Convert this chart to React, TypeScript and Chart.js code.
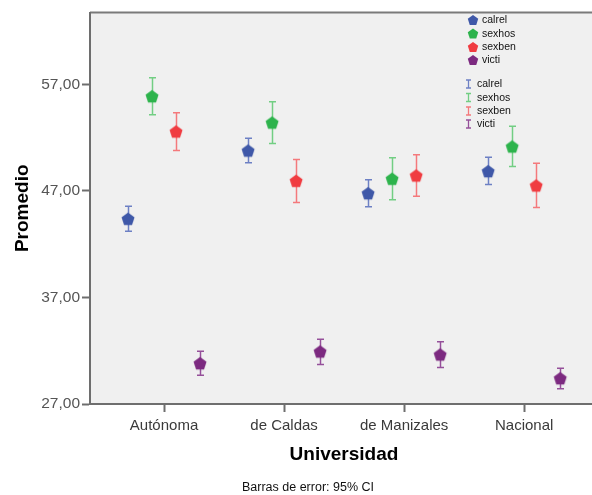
import React, { useEffect, useRef } from 'react';
import { Chart, registerables } from 'chart.js';

Chart.register(...registerables);

// ---------- data ----------
const categories = ['Autónoma', 'de Caldas', 'de Manizales', 'Nacional'];
const seriesNames = ['calrel', 'sexhos', 'sexben', 'victi'];
const yTicks = [27, 37, 47, 57];
const footnote = 'Barras de error: 95% CI';
const xTitle = 'Universidad';
const yTitle = 'Promedio';

const calrelMean = [44.39, 50.8, 46.79, 48.86];
const calrelLow = [43.23, 49.65, 45.52, 47.61];
const calrelHigh = [45.57, 51.96, 48.05, 50.17];

const sexhosMean = [55.9, 53.43, 48.15, 51.18];
const sexhosLow = [54.16, 51.46, 46.17, 49.3];
const sexhosHigh = [57.63, 55.38, 50.12, 53.08];

const sexbenMean = [52.59, 47.96, 48.46, 47.52];
const sexbenLow = [50.8, 45.92, 46.51, 45.45];
const sexbenHigh = [54.34, 49.96, 50.4, 49.61];

const victiMean = [30.83, 31.93, 31.65, 29.42];
const victiLow = [29.7, 30.71, 30.43, 28.43];
const victiHigh = [31.96, 33.08, 32.84, 30.36];

// ---------- styles ----------
const FONT = '"Liberation Sans", Arial, Helvetica, sans-serif';
const markerColors = ['#3F58A8', '#2DB34C', '#F03C41', '#7C2A80'];
const errorColors = ['#6D80C4', '#72CE83', '#F4797C', '#95509A'];
const seriesOffsets = [-0.3, -0.1, 0.1, 0.3];
const MARKER_R = 6.8;
const AXIS_COLOR = '#6E6E6E';

function pentagonPath(ctx: CanvasRenderingContext2D, cx: number, cy: number, r: number) {
  ctx.beginPath();
  const shift = (r - r * Math.cos(Math.PI / 5)) / 2;
  for (let i = 0; i < 5; i++) {
    const a = -Math.PI / 2 + (i * 2 * Math.PI) / 5;
    const px = cx + r * Math.cos(a);
    const py = cy + shift + r * Math.sin(a);
    if (i === 0) ctx.moveTo(px, py);
    else ctx.lineTo(px, py);
  }
  ctx.closePath();
}

function makeMarker(color: string, r: number) {
  const size = Math.ceil(r * 2 + 2);
  const c = document.createElement('canvas');
  c.width = size;
  c.height = size;
  const g = c.getContext('2d')!;
  g.fillStyle = color;
  pentagonPath(g, size / 2, size / 2, r);
  g.fill();
  return c;
}

const means = [calrelMean, sexhosMean, sexbenMean, victiMean];
const lows = [calrelLow, sexhosLow, sexbenLow, victiLow];
const highs = [calrelHigh, sexhosHigh, sexbenHigh, victiHigh];

const bgPlugin = {
  id: 'bgPlugin',
  beforeDraw(chart: any) {
    const { ctx, chartArea: a } = chart;
    ctx.save();
    ctx.fillStyle = '#FFFFFF';
    ctx.fillRect(0, 0, chart.width, chart.height);
    ctx.fillStyle = '#F0F0F0';
    ctx.fillRect(a.left, a.top, chart.width - a.left, a.bottom - a.top);
    ctx.strokeStyle = '#7A7A7A';
    ctx.lineWidth = 2;
    ctx.beginPath();
    ctx.moveTo(a.left, a.top);
    ctx.lineTo(chart.width, a.top);
    ctx.stroke();
    ctx.restore();
  },
  afterDraw(chart: any) {
    // bottom axis line runs to the canvas edge (plot continues past the frame)
    const { ctx, chartArea: a } = chart;
    ctx.save();
    ctx.strokeStyle = AXIS_COLOR;
    ctx.lineWidth = 2;
    ctx.beginPath();
    ctx.moveTo(a.left - 1, Math.round(a.bottom));
    ctx.lineTo(chart.width, Math.round(a.bottom));
    ctx.stroke();
    ctx.restore();
  },
};

const errorBarPlugin = {
  id: 'errorBarPlugin',
  beforeDatasetsDraw(chart: any) {
    const { ctx } = chart;
    const xs = chart.scales.x;
    const ys = chart.scales.y;
    ctx.save();
    ctx.lineWidth = 1.5;
    chart.data.datasets.forEach((ds: any, i: number) => {
      ctx.strokeStyle = errorColors[i];
      ds.data.forEach((p: any, j: number) => {
        const x = Math.round(xs.getPixelForValue(p.x)) + 0.5;
        const yl = ys.getPixelForValue(ds.errLow[j]);
        const yh = ys.getPixelForValue(ds.errHigh[j]);
        ctx.beginPath();
        ctx.moveTo(x, yl);
        ctx.lineTo(x, yh);
        ctx.moveTo(x - 3.5, yl);
        ctx.lineTo(x + 3.5, yl);
        ctx.moveTo(x - 3.5, yh);
        ctx.lineTo(x + 3.5, yh);
        ctx.stroke();
      });
    });
    ctx.restore();
  },
};

const legendPlugin = {
  id: 'customLegend',
  afterDraw(chart: any) {
    const { ctx } = chart;
    ctx.save();
    ctx.font = `10.5px ${FONT}`;
    ctx.textBaseline = 'middle';
    ctx.textAlign = 'left';
    const mx = 473;
    const rows1 = [20, 33.5, 47, 60];
    seriesNames.forEach((name, i) => {
      ctx.fillStyle = markerColors[i];
      pentagonPath(ctx, mx, rows1[i], 5.5);
      ctx.fill();
      ctx.fillStyle = '#111';
      ctx.fillText(name, 482, rows1[i] + 0.5);
    });
    const rows2 = [84, 97.5, 111, 124];
    seriesNames.forEach((name, i) => {
      const y = rows2[i];
      ctx.strokeStyle = errorColors[i];
      ctx.lineWidth = 1.3;
      const x = 468.5;
      ctx.beginPath();
      ctx.moveTo(x, y - 4);
      ctx.lineTo(x, y + 4);
      ctx.moveTo(x - 2.5, y - 4);
      ctx.lineTo(x + 2.5, y - 4);
      ctx.moveTo(x - 2.5, y + 4);
      ctx.lineTo(x + 2.5, y + 4);
      ctx.stroke();
      ctx.fillStyle = '#111';
      ctx.fillText(name, 477, y + 0.5);
    });
    // x-axis title
    ctx.font = `bold 19px ${FONT}`;
    ctx.fillStyle = '#000';
    ctx.textAlign = 'center';
    ctx.fillText(xTitle, 344, 455);
    // footnote
    ctx.font = `12.5px ${FONT}`;
    ctx.fillStyle = '#111';
    ctx.textAlign = 'left';
    ctx.fillText(footnote, 242, 488);
    ctx.restore();
  },
};

export default function App() {
  const ref = useRef<HTMLCanvasElement>(null);

  useEffect(() => {
    const canvas = ref.current;
    if (!canvas) return;
    const datasets = seriesNames.map((name, i) => ({
      label: name,
      data: means[i].map((v, j) => ({ x: j + 1 + seriesOffsets[i], y: v })),
      errLow: lows[i],
      errHigh: highs[i],
      pointStyle: makeMarker(markerColors[i], MARKER_R),
      pointRadius: MARKER_R,
      pointHoverRadius: MARKER_R,
      backgroundColor: markerColors[i],
      borderColor: markerColors[i],
      showLine: false,
    }));

    const chart = new Chart(canvas, {
      type: 'scatter',
      data: { datasets } as any,
      plugins: [bgPlugin, errorBarPlugin, legendPlugin],
      options: {
        animation: false,
        responsive: false,
        devicePixelRatio: 1,
        layout: { padding: { top: 12.5, right: 0, bottom: 0, left: 0 } },
        plugins: {
          legend: { display: false },
          tooltip: { enabled: false },
          title: { display: false },
        },
        scales: {
          x: {
            type: 'linear',
            min: 1 - 74 / 120,
            max: 1 + 420 / 120,
            afterBuildTicks: (scale: any) => {
              scale.ticks = categories.map((_, i) => ({ value: i + 1 }));
            },
            afterFit: (scale: any) => {
              scale.height = 91;
              scale.paddingLeft = 0;
              scale.paddingRight = 0;
            },
            ticks: {
              autoSkip: false,
              maxRotation: 0,
              padding: 5,
              color: '#3A3A3A',
              font: { family: FONT, size: 15 },
              callback: (v: any) => categories[Math.round(Number(v)) - 1] ?? '',
            },
            grid: {
              display: true,
              drawOnChartArea: false,
              drawTicks: true,
              tickLength: 8,
              tickWidth: 2,
              tickColor: AXIS_COLOR,
            },
            border: { display: false },
            title: { display: false, text: xTitle },
          },
          y: {
            type: 'linear',
            min: 27,
            max: 63.76,
            afterBuildTicks: (scale: any) => {
              scale.ticks = yTicks.map((v) => ({ value: v }));
            },
            afterFit: (scale: any) => {
              scale.width = 90;
              scale.paddingTop = 0;
              scale.paddingBottom = 0;
            },
            ticks: {
              padding: 2,
              color: '#555555',
              font: { family: FONT, size: 15.5 },
              callback: (v: any) => Number(v).toFixed(2).replace('.', ','),
            },
            grid: {
              display: true,
              drawOnChartArea: false,
              drawTicks: true,
              tickLength: 8,
              tickWidth: 2,
              tickColor: AXIS_COLOR,
            },
            border: { display: true, color: AXIS_COLOR, width: 2 },
            title: {
              display: true,
              text: yTitle,
              color: '#000',
              font: { family: FONT, size: 19, weight: 'bold' },
              padding: { top: 11, bottom: 0 },
            },
          },
        },
      } as any,
    });
    return () => chart.destroy();
  }, []);

  return (
    <div style={{ position: 'absolute', left: 0, top: 0, width: 592, height: 495 }}>
      <canvas ref={ref} width={592} height={495} style={{ width: 592, height: 495, display: 'block' }} />
    </div>
  );
}
